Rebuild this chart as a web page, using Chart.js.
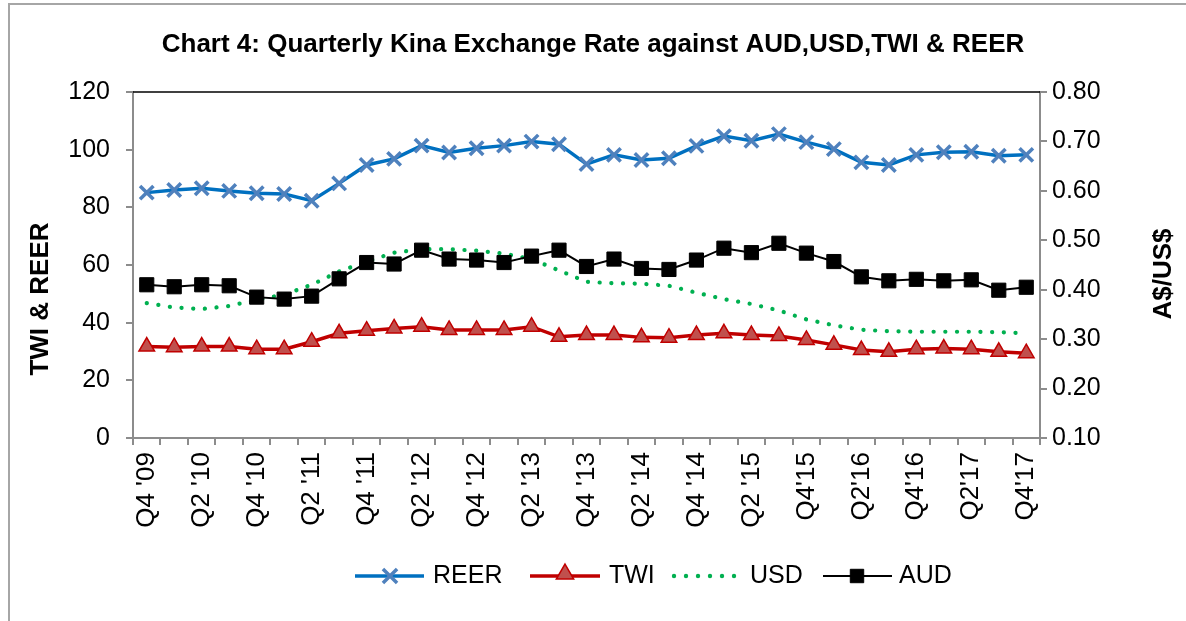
<!DOCTYPE html>
<html>
<head>
<meta charset="utf-8">
<script src="https://cdn.jsdelivr.net/npm/chart.js"></script>
<style>
  body { margin: 0; background: #fff; }
  #wrap { position: relative; width: 1186px; height: 621px; }
</style>
</head>
<body>
<div id="wrap"><canvas id="chart" width="1186" height="621"></canvas></div>
<script>
// quarters Q4 2009 .. Q4 2017
const quarters = [
  "Q4 '09", "Q1 '10", "Q2 '10", "Q3 '10", "Q4 '10", "Q1 '11", "Q2 '11", "Q3 '11",
  "Q4 '11", "Q1 '12", "Q2 '12", "Q3 '12", "Q4 '12", "Q1 '13", "Q2 '13", "Q3 '13",
  "Q4 '13", "Q1 '14", "Q2 '14", "Q3 '14", "Q4 '14", "Q1 '15", "Q2 '15", "Q3'15",
  "Q4'15", "Q1'16", "Q2'16", "Q3'16", "Q4'16", "Q1'17", "Q2'17", "Q3'17", "Q4'17"
]

const reer = [85.1, 86.0, 86.6, 85.7, 84.9, 84.6, 82.3, 88.3, 94.7, 96.8, 101.4, 99.0,
  100.5, 101.4, 102.8, 101.9, 95.0, 98.2, 96.4, 97.0, 101.3, 104.7, 103.1,
  105.4, 102.6, 100.2, 95.6, 94.7, 98.2, 99.1, 99.3, 97.9, 98.2]
const twi = [31.7, 31.5, 31.7, 31.7, 30.8, 30.8, 33.4, 36.3, 37.2, 38.0, 38.6, 37.5,
  37.5, 37.5, 38.6, 35.1, 35.7, 35.7, 34.9, 34.8, 35.7, 36.3, 35.7,
  35.4, 34.0, 32.3, 30.5, 29.9, 30.8, 31.0, 30.8, 29.9, 29.4]
const usd = [0.373, 0.364, 0.361, 0.367, 0.380, 0.390, 0.410, 0.437, 0.457, 0.475, 0.482, 0.482,
  0.479, 0.473, 0.462, 0.439, 0.416, 0.413, 0.412, 0.408, 0.394, 0.381, 0.371,
  0.358, 0.340, 0.328, 0.319, 0.316, 0.315, 0.315, 0.315, 0.314, 0.312]
const aud = [0.410, 0.406, 0.410, 0.408, 0.385, 0.381, 0.387, 0.422, 0.455, 0.452, 0.480, 0.462,
  0.460, 0.455, 0.468, 0.480, 0.447, 0.462, 0.443, 0.441, 0.460, 0.484, 0.475,
  0.494, 0.474, 0.457, 0.426, 0.418, 0.421, 0.418, 0.420, 0.399, 0.405]

const FONT = '"Liberation Sans", Arial, sans-serif'
const GREY = '#8c8c8c'

// simple marker painter for the legend
function marker(ctx, style, x, y, r, fill, stroke, lw) {
  ctx.save()
  ctx.fillStyle = fill
  ctx.strokeStyle = stroke
  ctx.lineWidth = lw
  ctx.beginPath()
  if (style === 'crossRot') {
    const d = r * Math.SQRT1_2
    ctx.moveTo(x - d, y - d); ctx.lineTo(x + d, y + d)
    ctx.moveTo(x + d, y - d); ctx.lineTo(x - d, y + d)
    ctx.stroke()
  } else if (style === 'triangle') {
    ctx.moveTo(x, y - r)
    ctx.lineTo(x + r * 0.866, y + r * 0.5)
    ctx.lineTo(x - r * 0.866, y + r * 0.5)
    ctx.closePath()
    ctx.fill(); ctx.stroke()
  } else {
    const s = r * Math.SQRT1_2
    ctx.rect(x - s, y - s, 2 * s, 2 * s)
    ctx.fill(); ctx.stroke()
  }
  ctx.restore()
}

const decor = {
  id: 'decor',
  beforeDraw(chart) {
    const ctx = chart.ctx
    ctx.save()
    ctx.fillStyle = '#fff'
    ctx.fillRect(0, 0, chart.width, chart.height)
    // outer frame
    ctx.strokeStyle = '#a6a6a6'
    ctx.lineWidth = 2
    ctx.beginPath()
    ctx.moveTo(9, chart.height); ctx.lineTo(9, 4); ctx.lineTo(chart.width, 4)
    ctx.stroke()
    ctx.restore()
  },
  afterDraw(chart) {
    const ctx = chart.ctx
    const a = chart.chartArea
    ctx.save()
    // top border of plot area
    ctx.strokeStyle = '#000'
    ctx.lineWidth = 1.5
    ctx.beginPath()
    ctx.moveTo(a.left, a.top); ctx.lineTo(a.right, a.top)
    ctx.stroke()

    // title
    ctx.fillStyle = '#000'
    ctx.textAlign = 'center'
    ctx.textBaseline = 'middle'
    ctx.font = 'bold 26px ' + FONT
    ctx.fillText('Chart 4: Quarterly Kina Exchange Rate against AUD,USD,TWI & REER', 593, 45)

    // axis titles
    ctx.save()
    ctx.translate(41, 299)
    ctx.rotate(-Math.PI / 2)
    ctx.fillText('TWI & REER', 0, 0)
    ctx.restore()
    ctx.save()
    ctx.translate(1164, 274)
    ctx.rotate(-Math.PI / 2)
    ctx.fillText('A$/US$', 0, 0)
    ctx.restore()

    // legend
    const ly = 576
    ctx.font = '25px ' + FONT
    ctx.textAlign = 'left'
    ctx.lineCap = 'butt'
    // REER
    ctx.strokeStyle = '#0070C0'; ctx.lineWidth = 3.5
    ctx.beginPath(); ctx.moveTo(355, ly); ctx.lineTo(424, ly); ctx.stroke()
    marker(ctx, 'crossRot', 390, ly, 10, '#4F81BD', '#4F81BD', 3.5)
    ctx.fillText('REER', 433, ly)
    // TWI
    ctx.strokeStyle = '#C00000'; ctx.lineWidth = 3.5
    ctx.beginPath(); ctx.moveTo(530, ly); ctx.lineTo(600, ly); ctx.stroke()
    marker(ctx, 'triangle', 565, ly - 2, 10, '#C0504D', '#C00000', 1.5)
    ctx.fillText('TWI', 609, ly)
    // USD
    ctx.fillStyle = '#00B050'
    for (let x = 674; x <= 734; x += 12) {
      ctx.beginPath(); ctx.arc(x, ly, 2.2, 0, Math.PI * 2); ctx.fill()
    }
    ctx.fillStyle = '#000'
    ctx.fillText('USD', 750, ly)
    // AUD
    ctx.strokeStyle = '#000'; ctx.lineWidth = 2
    ctx.beginPath(); ctx.moveTo(823, ly); ctx.lineTo(892, ly); ctx.stroke()
    marker(ctx, 'rect', 857, ly, 9.5, '#000', '#000', 1)
    ctx.fillText('AUD', 899, ly)
    ctx.restore()
  }
}

const tickFont = { family: FONT, size: 25 }

new Chart(document.getElementById('chart'), {
  type: 'line',
  data: {
    labels: quarters,
    datasets: [
      {
        label: 'REER', data: reer, yAxisID: 'y', order: 4,
        borderColor: '#0070C0', borderWidth: 3.5,
        pointStyle: 'crossRot', pointRadius: 9.5, pointBorderWidth: 3.5,
        pointBorderColor: '#4F81BD', pointBackgroundColor: '#4F81BD'
      },
      {
        label: 'TWI', data: twi, yAxisID: 'y', order: 3,
        borderColor: '#C00000', borderWidth: 3.5,
        pointStyle: 'triangle', pointRadius: 9, pointBorderWidth: 1.5,
        pointBorderColor: '#C00000', pointBackgroundColor: '#C0504D'
      },
      {
        label: 'USD', data: usd, yAxisID: 'y1', order: 2,
        borderColor: '#00B050', borderWidth: 4.2,
        borderDash: [0.1, 11.6], borderCapStyle: 'round',
        pointRadius: 0
      },
      {
        label: 'AUD', data: aud, yAxisID: 'y1', order: 1,
        borderColor: '#000', borderWidth: 2,
        pointStyle: 'rect', pointRadius: 10, pointBorderWidth: 1,
        pointBorderColor: '#000', pointBackgroundColor: '#000'
      }
    ]
  },
  options: {
    responsive: false,
    animation: false,
    layout: { padding: { top: 92, left: 0, right: 0, bottom: 0 } },
    plugins: {
      legend: { display: false },
      title: { display: false },
      tooltip: { enabled: false }
    },
    elements: { line: { tension: 0 } },
    scales: {
      x: {
        offset: true,
        grid: { offset: true, drawOnChartArea: false, color: GREY, lineWidth: 2, tickLength: 7 },
        border: { color: GREY, width: 2 },
        ticks: {
          autoSkip: false, minRotation: 90, maxRotation: 90, padding: 7,
          color: '#000', font: { family: FONT, size: 26 },
          callback: (v, i) => i % 2 === 0 ? quarters[i] : ''
        },
        afterFit: s => { s.height = 183 }
      },
      y: {
        position: 'left', min: 0, max: 120,
        grid: { drawOnChartArea: false, color: GREY, lineWidth: 2, tickLength: 7 },
        border: { color: GREY, width: 2 },
        ticks: { stepSize: 20, padding: 16, color: '#000', font: tickFont },
        afterFit: s => { s.width = 133 }
      },
      y1: {
        position: 'right', min: 0.1, max: 0.8,
        grid: { drawOnChartArea: false, color: GREY, lineWidth: 2, tickLength: 7 },
        border: { color: GREY, width: 2 },
        ticks: { stepSize: 0.1, padding: 5, color: '#000', font: tickFont,
          callback: v => v.toFixed(2) },
        afterFit: s => { s.width = 146 }
      }
    }
  },
  plugins: [decor]
})
</script>
</body>
</html>
